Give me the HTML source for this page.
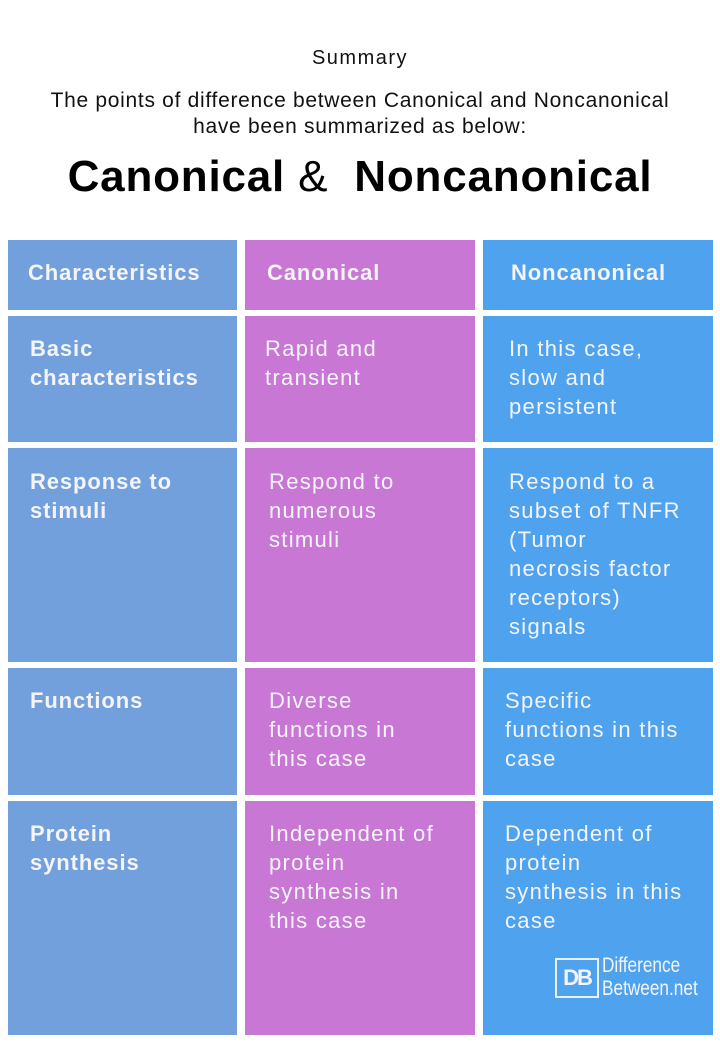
<!DOCTYPE html>
<html><head><meta charset="utf-8"><style>
body{margin:0;width:720px;height:1044px;background:#fff;position:relative;font-family:"Liberation Sans",sans-serif;overflow:hidden}
.t{position:absolute;left:0;width:720px;text-align:center;color:#111}
.c{position:absolute;color:#fff;box-sizing:border-box}
.a{background:#72a0dc}.b{background:#c878d4}.n{background:#4fa3ee}
.c div{position:absolute;font-size:22px;line-height:29px;letter-spacing:1.3px;color:#f4f4fa;white-space:nowrap}
.h{font-weight:bold;letter-spacing:0.9px!important}
</style></head><body>
<div class="t" style="top:47px;font-size:20px;letter-spacing:1.5px">Summary</div>
<div class="t" style="top:88px;font-size:21px;line-height:26px;letter-spacing:0.7px">The points of difference between Canonical and Noncanonical<br>have been summarized as below:</div>
<div class="t" style="top:152px;font-size:44px;font-weight:bold;color:#000;letter-spacing:0.8px">Canonical <span style="font-weight:normal">&amp;</span>&nbsp; Noncanonical</div>

<div class="c a" style="left:8px;top:240px;width:229px;height:70px"><div class="h" style="left:20px;top:18px">Characteristics</div></div>
<div class="c b" style="left:245px;top:240px;width:230px;height:70px"><div class="h" style="left:22px;top:18px">Canonical</div></div>
<div class="c n" style="left:483px;top:240px;width:230px;height:70px"><div class="h" style="left:28px;top:18px">Noncanonical</div></div>

<div class="c a" style="left:8px;top:316px;width:229px;height:126px"><div class="h" style="left:22px;top:18px">Basic<br>characteristics</div></div>
<div class="c b" style="left:245px;top:316px;width:230px;height:126px"><div style="left:20px;top:18px">Rapid and<br>transient</div></div>
<div class="c n" style="left:483px;top:316px;width:230px;height:126px"><div style="left:26px;top:18px">In this case,<br>slow and<br>persistent</div></div>

<div class="c a" style="left:8px;top:448px;width:229px;height:214px"><div class="h" style="left:22px;top:19px">Response to<br>stimuli</div></div>
<div class="c b" style="left:245px;top:448px;width:230px;height:214px"><div style="left:24px;top:19px">Respond to<br>numerous<br>stimuli</div></div>
<div class="c n" style="left:483px;top:448px;width:230px;height:214px"><div style="left:26px;top:19px">Respond to a<br>subset of TNFR<br>(Tumor<br>necrosis factor<br>receptors)<br>signals</div></div>

<div class="c a" style="left:8px;top:668px;width:229px;height:127px"><div class="h" style="left:22px;top:18px">Functions</div></div>
<div class="c b" style="left:245px;top:668px;width:230px;height:127px"><div style="left:24px;top:18px">Diverse<br>functions in<br>this case</div></div>
<div class="c n" style="left:483px;top:668px;width:230px;height:127px"><div style="left:22px;top:18px">Specific<br>functions in this<br>case</div></div>

<div class="c a" style="left:8px;top:801px;width:229px;height:234px"><div class="h" style="left:22px;top:18px">Protein<br>synthesis</div></div>
<div class="c b" style="left:245px;top:801px;width:230px;height:234px"><div style="left:24px;top:18px">Independent of<br>protein<br>synthesis in<br>this case</div></div>
<div class="c n" style="left:483px;top:801px;width:230px;height:234px"><div style="left:22px;top:18px">Dependent of<br>protein<br>synthesis in this<br>case</div>
<div style="left:72px;top:157px;width:44px;height:40px;border:2px solid #e8f0fa;box-sizing:border-box;font-weight:bold;font-size:22px;line-height:36px;text-align:center;letter-spacing:-2px">DB</div>
<div style="left:119px;top:153px;font-size:21px;line-height:23px;letter-spacing:0px;transform:scaleX(0.82);transform-origin:left top">Difference<br>Between.net</div></div>
</body></html>
